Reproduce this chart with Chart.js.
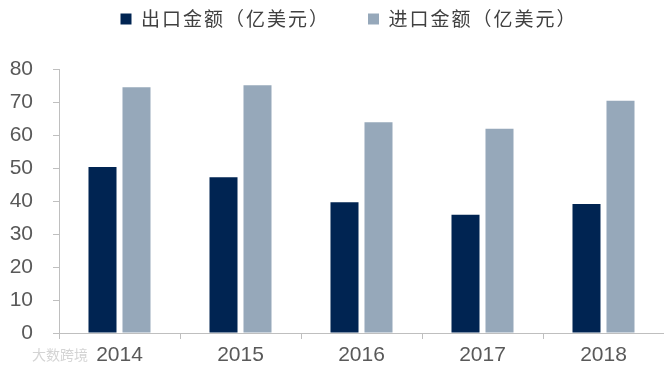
<!DOCTYPE html>
<html>
<head>
<meta charset="utf-8">
<script src="https://cdn.jsdelivr.net/npm/chart.js@4/dist/chart.umd.min.js"></script>
<style>
  html, body { margin: 0; padding: 0; background: #fff; overflow: hidden; }
  #wrap { position: relative; width: 664px; height: 371px; }
  #mark { position: absolute; left: 32px; top: 344px; font: 14px "Noto Sans CJK SC", sans-serif; color: #d4d4d4; }
</style>
</head>
<body>
<div id="wrap">
  <canvas id="tradeChart"></canvas>
  <div id="mark">大数跨境</div>
</div>
<script>
// data
const years = ['2014', '2015', '2016', '2017', '2018'];
const exportValues = [50.3, 47.2, 39.6, 35.8, 39.1];
const importValues = [74.5, 75.1, 63.9, 61.9, 70.4];
const seriesNames = ['出口金额（亿美元）', '进口金额（亿美元）'];

const axisColor = '#bfbfbf';
const tickFont = { family: '"Liberation Sans", Arial, sans-serif', size: 21 };
const legendPad = 38;

// legend sits high with wide letter spacing, chart area starts lower down
const legendPlacement = {
    id: 'legendPlacement',
    afterInit(chart) {
        const legend = chart.legend;
        if (!legend) return;
        const fit = legend.fit;
        const draw = legend.draw;
        legend.fit = function () {
            this.ctx.save();
            this.ctx.letterSpacing = '2px';
            fit.call(this);
            this.ctx.restore();
            this.height = 69;
        };
        legend.draw = function () {
            this.ctx.save();
            this.ctx.letterSpacing = '2px';
            draw.call(this);
            this.ctx.restore();
        };
    },
    afterLayout(chart) {
        const legend = chart.legend;
        if (!legend) return;
        legend.top -= legendPad - 9.5;
        legend.left += 17;
        legend.right += 17;
    }
};

const ctx = document.getElementById('tradeChart').getContext('2d');
new Chart(ctx, {
    type: 'bar',
    data: {
        labels: years,
        datasets: [{
            label: seriesNames[0],
            data: exportValues,
            backgroundColor: '#002452',
            categoryPercentage: 0.562,
            barPercentage: 0.824
        }, {
            label: seriesNames[1],
            data: importValues,
            backgroundColor: '#96a8ba',
            categoryPercentage: 0.562,
            barPercentage: 0.824
        }]
    },
    options: {
        responsive: true,
        maintainAspectRatio: false,
        animation: false,
        layout: { padding: 0 },
        plugins: {
            legend: {
                position: 'top',
                labels: {
                    boxWidth: 11,
                    boxHeight: 11,
                    padding: legendPad,
                    color: '#404040',
                    font: { family: '"Noto Sans CJK SC", sans-serif', size: 19 }
                }
            },
            title: { display: false },
            tooltip: { enabled: false }
        },
        scales: {
            x: {
                grid: { drawOnChartArea: false, color: axisColor, tickLength: 6 },
                border: { color: axisColor },
                ticks: { color: '#595959', font: tickFont, padding: 4, maxRotation: 0 },
                afterFit: scale => { scale.height = 38; }
            },
            y: {
                min: 0,
                max: 80,
                grid: { drawOnChartArea: false, color: axisColor, tickLength: 6 },
                border: { color: axisColor },
                ticks: { stepSize: 10, color: '#595959', font: tickFont, padding: 20 },
                afterFit: scale => { scale.width = 59; }
            }
        }
    },
    plugins: [legendPlacement]
});
</script>
</body>
</html>
